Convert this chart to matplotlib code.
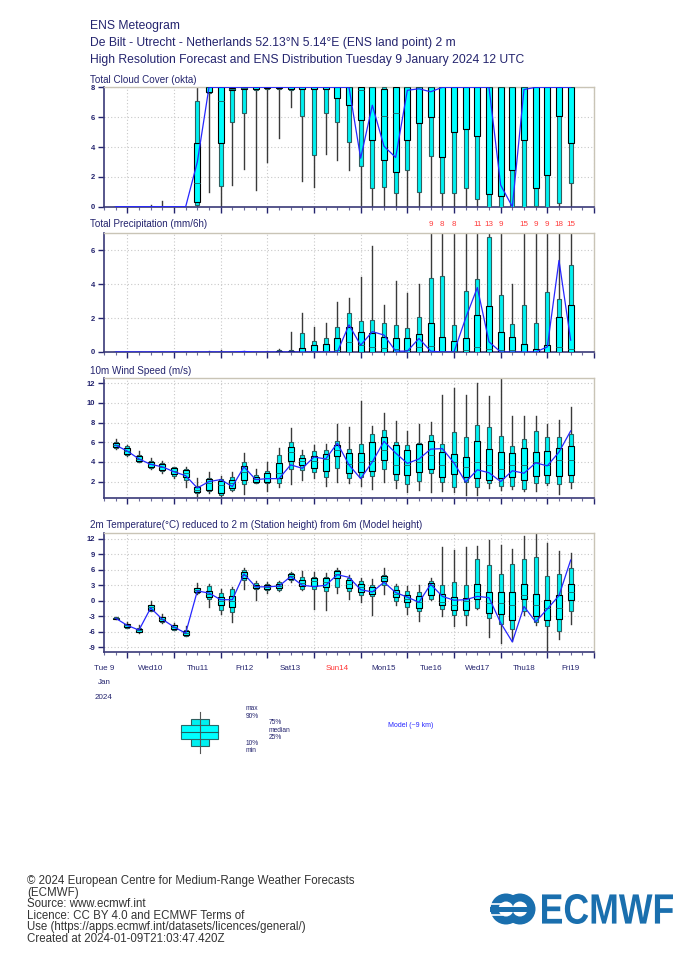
import numpy as np
import matplotlib
matplotlib.use('Agg')
import matplotlib.pyplot as plt
from matplotlib.patches import Rectangle, PathPatch, Circle
from matplotlib.textpath import TextPath
from matplotlib.font_manager import FontProperties
from matplotlib.transforms import Affine2D, blended_transform_factory

plt.rcParams['font.family'] = ['Liberation Sans', 'DejaVu Sans']
plt.rcParams['axes.unicode_minus'] = False

# forecast steps, hours after Tue 9 Jan 2024 12 UTC
steps = np.arange(6, 246, 6)
day_labels = ['Tue 9', 'Wed10', 'Thu11', 'Fri12', 'Sat13', 'Sun14', 'Mon15', 'Tue16', 'Wed17', 'Thu18', 'Fri19']

# each row: min, p10, p25, median, p75, p90, max
cloud = [
    [0, 0, 0, 0, 0, 0, 0], [0, 0, 0, 0, 0, 0, 0], [0, 0, 0, 0, 0, 0, 0],
    [0, 0, 0, 0, 0, 0, 0.1], [0, 0, 0, 0, 0, 0, 0.4], [0, 0, 0, 0, 0, 0, 0],
    [0, 0, 0, 0, 0, 0, 0], [0, 0.1, 0.3, 1.6, 4.3, 7.05, 8],
    [1.0, 7.6, 7.7, 8, 8, 8, 8], [0, 1.4, 4.3, 7.05, 8, 8, 8],
    [1.45, 5.65, 7.8, 7.9, 7.95, 8, 8], [2.5, 6.3, 7.9, 7.95, 8, 8, 8],
    [1.1, 7.8, 7.9, 8, 8, 8, 8], [3.0, 7.9, 7.95, 8, 8, 8, 8],
    [4.6, 7.9, 7.95, 8, 8, 8, 8], [6.65, 7.85, 7.9, 8, 8, 8, 8],
    [1.7, 6.1, 7.9, 8, 8, 8, 8], [1.3, 3.45, 7.9, 8, 8, 8, 8],
    [3.5, 6.25, 7.9, 8, 8, 8, 8], [3.1, 5.65, 7.25, 8, 8, 8, 8],
    [2.45, 4.35, 6.8, 8, 8, 8, 8], [0.1, 2.7, 5.8, 7.8, 8, 8, 8],
    [0, 1.25, 4.5, 8, 8, 8, 8], [0, 1.35, 3.15, 6.1, 7.9, 8, 8],
    [0, 0.95, 2.35, 6.25, 8, 8, 8], [0, 2.45, 4.45, 8, 8, 8, 8],
    [0, 1.0, 5.6, 8, 8, 8, 8], [0, 3.4, 6.0, 8, 8, 8, 8],
    [0, 0.95, 3.35, 8, 8, 8, 8], [0, 0.9, 5.0, 8, 8, 8, 8],
    [0, 1.25, 5.2, 8, 8, 8, 8], [0, 0.5, 4.75, 8, 8, 8, 8],
    [0, 0, 0.85, 8, 8, 8, 8], [0, 0, 0.7, 8, 8, 8, 8],
    [0, 0, 2.45, 8, 8, 8, 8], [0, 0, 4.5, 8, 8, 8, 8],
    [0, 0.05, 1.25, 8, 8, 8, 8], [0, 0, 2.15, 8, 8, 8, 8],
    [0, 0.25, 6.05, 8, 8, 8, 8], [0, 1.6, 4.25, 8, 8, 8, 8],
]
cloud_hres = [0, 0, 0, 0, 0, 0, 0, 3.0, 8, 8, 8, 8, 8, 8, 8, 8, 8, 8, 8, 8,
              8, 3.25, 6.8, 4.05, 3.3, 7.8, 7.9, 7.7, 8, 8, 8, 8, 8, 1.45, 0, 7.85, 8, 8, 8, 8]

precip = [
    [0, 0, 0, 0, 0, 0, 0], [0, 0, 0, 0, 0, 0, 0], [0, 0, 0, 0, 0, 0, 0],
    [0, 0, 0, 0, 0, 0, 0], [0, 0, 0, 0, 0, 0, 0], [0, 0, 0, 0, 0, 0, 0],
    [0, 0, 0, 0, 0, 0, 0], [0, 0, 0, 0, 0, 0, 0],
    [0, 0, 0, 0, 0, 0, 0.03], [0, 0, 0, 0, 0, 0.02, 0.1],
    [0, 0, 0, 0, 0, 0, 0.02], [0, 0, 0, 0, 0, 0.02, 0.05],
    [0, 0, 0, 0, 0, 0, 0.02], [0, 0, 0, 0, 0, 0.02, 0.05],
    [0, 0, 0, 0, 0.05, 0.1, 0.15], [0, 0, 0, 0, 0.05, 0.1, 1.2],
    [0, 0, 0, 0.02, 0.22, 1.1, 2.3], [0, 0, 0, 0.05, 0.4, 0.65, 1.5],
    [0, 0, 0, 0.05, 0.45, 0.85, 1.7], [0, 0, 0, 0.1, 0.85, 1.45, 2.95],
    [0, 0, 0, 0.6, 1.45, 2.3, 3.2], [0, 0, 0, 0.4, 1.15, 1.8, 4.4],
    [0, 0, 0, 0.3, 1.1, 1.9, 6.25], [0, 0, 0, 0.25, 0.9, 1.7, 2.8],
    [0, 0, 0, 0.2, 0.8, 1.6, 4.2], [0, 0, 0, 0.1, 0.8, 1.4, 3.5],
    [0, 0, 0, 0.3, 1.05, 2.05, 4.0], [0, 0, 0, 0.35, 1.7, 4.35, 9],
    [0, 0, 0, 0.05, 0.9, 4.5, 8], [0, 0, 0, 0.05, 0.65, 1.6, 8],
    [0, 0, 0, 0.1, 0.8, 3.6, 6.95], [0, 0, 0, 0.3, 2.2, 4.3, 11],
    [0, 0, 0, 0.2, 2.7, 6.8, 13], [0, 0, 0, 0.1, 1.2, 3.35, 9],
    [0, 0, 0, 0.1, 0.9, 1.65, 4.0], [0, 0, 0, 0.02, 0.45, 2.8, 15],
    [0, 0, 0, 0, 0.2, 1.7, 9], [0, 0, 0, 0.02, 0.4, 3.55, 9],
    [0, 0, 0, 0.3, 2.05, 3.1, 18], [0, 0, 0, 0.2, 2.8, 5.15, 15],
]
precip_hres = [0, 0, 0, 0, 0, 0, 0, 0, 0, 0, 0, 0.03, 0, 0, 0, 0, 0, 0, 0, 0,
               1.6, 0.4, 1.2, 1.0, 0.05, 0.05, 0.8, 0.05, 0, 0, 2.0, 3.8, 0.6, 0, 0, 0, 0, 0.3, 5.4, 0.7]

wind = [
    [5.3, 5.45, 5.5, 5.75, 5.95, 6.05, 6.3], [4.65, 4.75, 4.8, 5.1, 5.4, 5.6, 5.75],
    [3.95, 4.0, 4.05, 4.3, 4.55, 4.7, 5.1], [3.3, 3.4, 3.45, 3.75, 4.0, 4.1, 4.35],
    [2.85, 3.1, 3.2, 3.5, 3.8, 3.9, 4.05], [2.35, 2.6, 2.75, 3.1, 3.35, 3.45, 3.5],
    [1.4, 2.2, 2.5, 2.85, 3.15, 3.3, 3.5], [0.5, 0.8, 0.9, 1.15, 1.4, 1.6, 2.4],
    [0.8, 1.0, 1.15, 1.85, 2.25, 2.4, 3.0], [0.4, 0.6, 0.8, 1.65, 2.05, 2.3, 2.55],
    [1.05, 1.15, 1.3, 1.85, 2.15, 2.5, 3.0], [0.7, 1.8, 2.15, 3.0, 3.6, 3.95, 4.9],
    [1.85, 1.9, 1.95, 2.25, 2.5, 2.65, 3.3], [1.05, 1.85, 2.0, 2.4, 2.85, 3.1, 3.95],
    [1.4, 1.85, 2.35, 2.85, 3.85, 4.7, 5.4], [1.75, 3.3, 4.05, 5.0, 5.55, 6.05, 7.4],
    [2.15, 3.2, 3.7, 4.05, 4.35, 4.75, 5.2], [2.4, 2.95, 3.4, 4.1, 4.65, 5.1, 5.75],
    [1.6, 2.5, 3.1, 4.3, 4.8, 5.25, 5.8], [2.0, 3.35, 4.6, 5.2, 5.75, 6.15, 7.85],
    [1.85, 2.35, 2.85, 3.75, 4.9, 5.3, 7.55], [1.6, 2.45, 3.0, 3.95, 4.9, 5.85, 10.2],
    [1.25, 2.6, 3.1, 4.1, 6.0, 6.8, 7.65], [2.0, 3.25, 4.15, 5.2, 6.55, 7.25, 8.95],
    [1.3, 2.15, 2.8, 3.7, 5.75, 6.0, 8.15], [0.9, 1.75, 2.7, 3.7, 5.2, 5.75, 7.1],
    [1.15, 2.1, 3.0, 3.95, 5.85, 5.9, 7.85], [0.9, 2.85, 3.3, 4.7, 6.15, 6.7, 8.05],
    [1.05, 2.0, 2.45, 3.7, 5.0, 5.85, 10.8], [0.9, 1.4, 2.8, 3.95, 4.8, 7.0, 11.5],
    [0.65, 1.95, 2.5, 3.5, 4.5, 6.5, 10.8], [0.65, 1.4, 2.35, 3.95, 6.15, 7.8, 12.0],
    [1.3, 1.9, 2.15, 3.7, 5.3, 7.5, 10.75], [1.15, 1.6, 2.35, 3.25, 5.0, 6.6, 12.45],
    [1.25, 1.6, 2.45, 3.7, 4.9, 5.6, 8.7], [1.0, 1.25, 2.15, 3.7, 5.4, 6.35, 8.7],
    [1.0, 1.85, 2.6, 3.95, 5.0, 7.15, 8.7], [1.65, 1.85, 2.7, 3.7, 5.15, 6.5, 7.9],
    [0.75, 1.75, 2.6, 4.2, 5.45, 6.5, 8.25], [1.3, 1.95, 2.7, 4.2, 5.6, 6.8, 9.55],
]
wind_hres = [5.7, 5.1, 4.3, 3.75, 3.5, 3.0, 2.6, 1.35, 2.0, 2.2, 1.5, 3.5, 2.2, 2.3, 2.3, 3.7, 3.35, 4.5, 4.3, 5.9,
             3.7, 2.3, 4.0, 6.1, 4.9, 3.85, 4.3, 5.3, 5.35, 3.9, 1.95, 3.2, 2.9, 2.0, 3.1, 2.85, 3.9, 3.6, 5.0, 7.15]

temp = [
    [-3.6, -3.55, -3.5, -3.4, -3.3, -3.2, -3.1], [-5.3, -5.2, -5.1, -4.8, -4.55, -4.45, -4.15],
    [-6.25, -6.15, -6.05, -5.7, -5.4, -5.3, -4.65], [-2.05, -1.95, -1.85, -1.3, -0.9, -0.8, -0.1],
    [-4.3, -4.1, -4.0, -3.6, -3.2, -3.1, -2.5], [-5.75, -5.65, -5.55, -5.1, -4.75, -4.65, -4.3],
    [-6.9, -6.8, -6.7, -6.2, -5.8, -5.7, -4.95], [1.4, 1.6, 1.7, 2.1, 2.4, 2.5, 3.4],
    [-1.3, 0.4, 0.7, 1.35, 1.95, 2.9, 3.2], [-2.6, -1.85, -0.9, 0.0, 0.65, 1.5, 2.3],
    [-4.1, -2.25, -1.2, 0.0, 0.85, 2.3, 2.75], [2.3, 4.05, 4.4, 5.0, 5.55, 6.0, 6.45],
    [0.05, 2.2, 2.45, 2.8, 3.15, 3.4, 3.85], [1.6, 2.1, 2.3, 2.75, 3.15, 3.3, 3.55],
    [1.95, 2.0, 2.45, 2.9, 3.3, 3.6, 3.75], [3.6, 4.1, 4.25, 4.75, 5.15, 5.3, 5.55],
    [2.0, 2.3, 2.8, 3.4, 4.05, 4.6, 5.85], [-1.55, 2.3, 2.8, 3.75, 4.5, 4.7, 5.55],
    [-1.85, 1.8, 2.65, 3.6, 4.4, 4.7, 5.35], [1.5, 2.75, 4.5, 5.15, 5.7, 6.0, 6.3],
    [0.3, 1.8, 2.45, 3.3, 4.05, 4.5, 5.05], [-0.25, 1.15, 1.7, 2.6, 3.3, 3.75, 4.5],
    [-2.85, 0.85, 1.35, 1.8, 2.6, 3.1, 4.25], [1.3, 3.1, 3.75, 4.4, 4.85, 5.05, 6.45],
    [-0.8, 0.0, 0.7, 1.3, 2.15, 2.8, 3.3], [-2.5, -1.2, -0.25, 0.4, 1.15, 1.8, 2.8],
    [-3.85, -2.05, -1.4, -0.3, 0.95, 1.7, 3.1], [0.2, 0.4, 1.15, 3.0, 3.4, 3.75, 4.5],
    [-3.05, -1.6, -0.8, -0.25, 1.3, 3.1, 10.5], [-5.0, -2.85, -1.85, -0.8, 0.7, 3.55, 9.85],
    [-4.8, -2.7, -1.75, 0.0, 0.5, 3.1, 10.4], [-1.55, -1.4, 0.4, 1.7, 3.3, 8.05, 10.65],
    [-7.05, -3.35, -2.4, -0.45, 1.7, 6.85, 11.8], [-8.2, -4.5, -2.5, -0.45, 1.7, 5.15, 10.85],
    [-7.9, -5.5, -3.7, -0.8, 1.7, 7.1, 10.0], [-2.7, -2.05, 0.3, 1.15, 3.2, 8.1, 12.65],
    [-4.65, -4.1, -3.05, -0.9, 1.3, 8.4, 13.1], [-9.8, -5.0, -3.7, -1.4, 0.2, 4.85, 11.15],
    [-7.4, -5.8, -3.5, -1.4, 1.05, 5.15, 9.7], [-4.45, -1.9, 0.05, 1.7, 3.2, 6.45, 9.2],
]
temp_hres = [-3.4, -4.8, -5.7, -1.4, -3.6, -5.1, -6.3, 1.9, 1.5, 0.2, 0.2, 5.2, 2.7, 2.7, 2.85, 4.7, 3.0, 2.75, 3.0, 5.05,
             4.55, 2.15, 1.7, 3.6, 1.6, 0.7, -0.3, 3.2, 0.85, 0.1, 0.2, 0.85, 0.6, -4.3, -8.0, -1.1, -4.1, -1.6, 1.0, 7.9]

navy = '#24246e'
hres_col = '#2626ff'


def draw_boxes(ax, q, hres):
    q = np.array(q, dtype=float)
    for t, (mn, p10, p25, med, p75, p90, mx) in zip(steps, q):
        ax.plot([t, t], [mn, mx], color='#3a3a3a', lw=1.0, zorder=2)
        ax.add_patch(Rectangle((t - 0.95, p10), 1.9, p90 - p10, fc='#00f0f0', ec='#2f5f5f', lw=0.8, zorder=3))
        ax.add_patch(Rectangle((t - 1.6, p25), 3.2, p75 - p25, fc='#00ffff', ec='black', lw=0.8, zorder=4))
        ax.plot([t - 1.6, t + 1.6], [med, med], color='#1f6060', lw=0.6, zorder=5)
    ax.plot(steps, hres, color=hres_col, lw=0.9, zorder=6)


def style(ax, ylim, yticks):
    ax.set_xlim(0, 252)
    ax.set_ylim(*ylim)
    ax.set_yticks(yticks)
    ax.set_xticks(np.arange(12, 253, 24))
    ax.set_xticks(np.arange(0, 253, 6), minor=True)
    ax.set_xticklabels([])
    ax.grid(True, which='major', color='#c8c8c8', ls=(0, (1, 2)), lw=0.8)
    ax.tick_params(axis='y', direction='out', length=4.5, width=1, color=navy, labelcolor=navy,
                   labelsize=5.5, pad=2)
    ax.tick_params(axis='x', which='major', direction='out', length=4, width=1, color=navy)
    ax.tick_params(axis='x', which='minor', direction='out', length=2.5, width=0.8, color='#6a6a9a')
    for lab in ax.get_yticklabels():
        lab.set_fontweight('bold')
    for s in ['left', 'bottom']:
        ax.spines[s].set_color('#3a3a78')
        ax.spines[s].set_linewidth(1.2)
    for s in ['top', 'right']:
        ax.spines[s].set_color('#c9c4b6')
        ax.spines[s].set_linewidth(1.0)


fig = plt.figure(figsize=(7, 9.66), dpi=100)
H = 966.0


def panel(top, bottom):
    return fig.add_axes([104 / 700, 1 - bottom / H, 490 / 700, (bottom - top) / H])


ax1 = panel(87.3, 206.7)
draw_boxes(ax1, cloud, cloud_hres)
style(ax1, (0, 8), [0, 2, 4, 6, 8])

ax2 = panel(233.3, 352.0)
draw_boxes(ax2, precip, precip_hres)
style(ax2, (0, 7), [0, 2, 4, 6])
trans = blended_transform_factory(ax2.transData, ax2.transAxes)
for t, row in zip(steps, precip):
    if row[6] > 7:
        ax2.text(t, 1.078, '%d' % round(row[6]), transform=trans, ha='center', va='center',
                 color='#ff3b3b', fontsize=5.8)

ax3 = panel(378.3, 498.3)
draw_boxes(ax3, wind, wind_hres)
style(ax3, (0.3, 12.5), [2, 4, 6, 8, 10, 12])

ax4 = panel(533.3, 651.7)
draw_boxes(ax4, temp, temp_hres)
style(ax4, (-9.9, 13.1), [-9, -6, -3, 0, 3, 6, 9, 12])
trans4 = blended_transform_factory(ax4.transData, ax4.transAxes)
for k, lab in enumerate(day_labels):
    ax4.text(24 * k, -0.146, lab, transform=trans4, ha='center', va='center', fontsize=5.8,
             color='#ff3333' if lab.startswith('Sun') else navy)
ax4.text(0, -0.264, 'Jan', transform=trans4, ha='center', va='center', fontsize=5.8, color=navy)
ax4.text(0, -0.383, '2024', transform=trans4, ha='center', va='center', fontsize=5.8, color=navy)

# titles
fig.text(90 / 700, 1 - 26 / H, 'ENS Meteogram', fontsize=8.7, color=navy, va='center')
fig.text(90 / 700, 1 - 43 / H, 'De Bilt - Utrecht - Netherlands 52.13°N 5.14°E (ENS land point) 2 m',
         fontsize=8.7, color=navy, va='center')
fig.text(90 / 700, 1 - 60 / H, 'High Resolution Forecast and ENS Distribution Tuesday 9 January 2024 12 UTC',
         fontsize=8.7, color=navy, va='center')
panel_titles = [(80, 'Total Cloud Cover (okta)'), (224, 'Total Precipitation (mm/6h)'),
                (371, '10m Wind Speed (m/s)'),
                (525, '2m Temperature(°C) reduced to 2 m (Station height) from 6m (Model height)')]
for y, txt in panel_titles:
    fig.text(90 / 700, 1 - y / H, txt, fontsize=7.1, color=navy, va='center')

# overlay in pixel units for legend, footer and logo
ov = fig.add_axes([0, 0, 1, 1])
ov.set_xlim(0, 700)
ov.set_ylim(H, 0)
ov.axis('off')
ov.patch.set_alpha(0)

ov.plot([200, 200], [712, 753], color='#555555', lw=0.8)
ov.add_patch(Rectangle((190.7, 719), 18.3, 27.3, fc='#00f0f0', ec='#2f5f5f', lw=0.8))
ov.add_patch(Rectangle((181, 725), 37.3, 14.3, fc='#00ffff', ec='#2a6a6a', lw=0.8))
ov.plot([181, 218.3], [732.3, 732.3], color='#1f6060', lw=0.8)
for x, y, txt in [(246, 709, 'max'), (246, 716.5, '90%'), (268.5, 723, '75%'), (268.5, 730.5, 'median'),
                  (268.5, 737.5, '25%'), (246, 743.5, '10%'), (246, 750.5, 'min')]:
    ov.text(x, y, txt, fontsize=4.8, color=navy, va='center')
ov.text(388, 725.5, 'Model (~9 km)', fontsize=5, color=hres_col, va='center')

footer = ['© 2024 European Centre for Medium-Range Weather Forecasts', '(ECMWF)',
          'Source: www.ecmwf.int', 'Licence: CC BY 4.0 and ECMWF Terms of',
          'Use (https://apps.ecmwf.int/datasets/licences/general/)', 'Created at 2024-01-09T21:03:47.420Z']
for k, line in enumerate(footer):
    ov.text(27, 881 + 11.6 * k, line, fontsize=8.3, color='#333333', va='center')

logo = '#1a6fae'
tp = TextPath((0, 0), 'ECMWF', size=1, prop=FontProperties(family='Liberation Sans', weight='bold'))
ext = tp.get_extents()
tr = Affine2D().translate(-ext.x0, -ext.y0).scale(131 / ext.width, -30 / ext.height).translate(542, 924)
ov.add_patch(PathPatch(tr.transform_path(tp), fc=logo, ec='none'))
ov.add_patch(Circle((506, 909), 15.5, fc=logo, ec='none'))
ov.add_patch(Circle((520, 909), 15.5, fc=logo, ec='none'))
ov.add_patch(Circle((506, 909), 7.5, fc='white', ec='none'))
ov.add_patch(Circle((520, 909), 7.5, fc='white', ec='none'))
ov.add_patch(Rectangle((490, 906.5), 45, 5, fc=logo, ec='none'))
ov.plot([489, 502], [903.5, 903.5], color='white', lw=1.2)
ov.plot([489, 502], [914.5, 914.5], color='white', lw=1.2)

fig.savefig('out.png', dpi=100)
